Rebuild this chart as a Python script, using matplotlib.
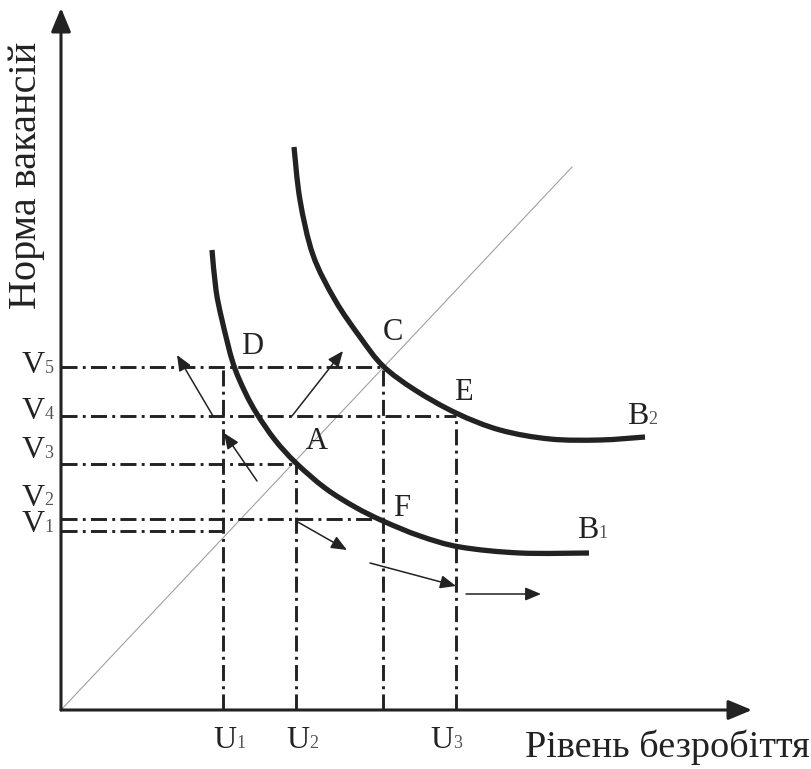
import matplotlib
matplotlib.use("Agg")
import matplotlib.pyplot as plt
from matplotlib.patches import ArrowStyle, PathPatch
from matplotlib.path import Path

plt.rcParams['font.family'] = ['Liberation Serif', 'DejaVu Serif']

# ---- data (chart units, origin at axes intersection) ----
# Beveridge curve B1
b1_u = [1.51, 1.55, 1.61, 1.72, 1.84, 1.96, 2.14, 2.35, 2.64, 2.94, 3.22, 3.59, 3.99, 4.59, 5.28]
b1_v = [4.60, 4.20, 3.90, 3.47, 3.18, 2.96, 2.70, 2.47, 2.22, 2.03, 1.89, 1.74, 1.63, 1.57, 1.57]
# Beveridge curve B2
b2_u = [2.33, 2.39, 2.52, 2.74, 2.99, 3.22, 3.54, 3.95, 4.39, 4.89, 5.39, 5.84]
b2_v = [5.63, 5.10, 4.55, 4.10, 3.73, 3.44, 3.20, 2.97, 2.80, 2.71, 2.70, 2.73]
# 45-degree line
diag_u = [0.0, 5.11]
diag_v = [0.0, 5.43]

v_names = ['V1', 'V2', 'V3', 'V4', 'V5']
v_levels = [1.79, 1.91, 2.46, 2.94, 3.43]
v_ends = [1.62, 3.22, 2.35, 3.95, 3.22]          # x where each horizontal guide stops

u_names = ['U1', 'U2', '', 'U3']
u_levels = [1.62, 2.35, 3.22, 3.95]
u_tops = [3.43, 2.46, 3.43, 2.94]                 # y where each vertical guide stops

points = ['D', 'C', 'E', 'A', 'F']
point_pos = [(1.91, 3.63), (3.32, 3.77), (4.02, 3.17), (2.56, 2.68), (3.41, 2.02)]

# movement arrows: (tail, head)
arrows = [((1.52, 2.94), (1.16, 3.55)),
          ((2.31, 2.94), (2.82, 3.59)),
          ((1.96, 2.29), (1.63, 2.77)),
          ((2.35, 1.89), (2.86, 1.60)),
          ((3.09, 1.47), (3.95, 1.24)),
          ((4.05, 1.16), (4.80, 1.16))]

x_label = 'Рівень безробіття'
y_label = 'Норма вакансій'

# ---- figure ----
fig = plt.figure(figsize=(8.11, 7.69), dpi=100)
ax = fig.add_axes([0, 0, 1, 1])
ax.set_xlim(-0.61, 7.50)
ax.set_ylim(-0.59, 7.10)
ax.axis('off')

dark = '#222222'
dashdot = (0, (5.5, 1.8, 1.0, 1.8))


def smooth_path(xs, ys):
    """Cubic Bezier path through the given points (Catmull-Rom tangents)."""
    pts = list(zip(xs, ys))
    verts = [pts[0]]
    codes = [Path.MOVETO]
    n = len(pts)
    for i in range(n - 1):
        p0 = pts[i - 1] if i > 0 else pts[i]
        p1 = pts[i]
        p2 = pts[i + 1]
        p3 = pts[i + 2] if i + 2 < n else pts[i + 1]
        c1 = (p1[0] + (p2[0] - p0[0]) / 6.0, p1[1] + (p2[1] - p0[1]) / 6.0)
        c2 = (p2[0] - (p3[0] - p1[0]) / 6.0, p2[1] - (p3[1] - p1[1]) / 6.0)
        verts += [c1, c2, p2]
        codes += [Path.CURVE4] * 3
    return Path(verts, codes)


# guides
for lvl, end in zip(v_levels, v_ends):
    ax.plot([0, end], [lvl, lvl], color=dark, lw=2.1, linestyle=dashdot, zorder=2)
for lvl, top in zip(u_levels, u_tops):
    ax.plot([lvl, lvl], [0, top], color=dark, lw=2.1, linestyle=dashdot, zorder=2)

# diagonal
ax.plot(diag_u, diag_v, color='#a0a0a0', lw=0.8, zorder=1)

# curves
for xs, ys in ((b1_u, b1_v), (b2_u, b2_v)):
    ax.add_patch(PathPatch(smooth_path(xs, ys), facecolor='none', edgecolor=dark,
                           lw=3.8, capstyle='butt', zorder=4))

# axes with arrows
axis_style = ArrowStyle('-|>', head_length=0.72, head_width=0.3)
ax.annotate('', xy=(0, 7.02), xytext=(0, 0),
            arrowprops=dict(arrowstyle=axis_style, color=dark, lw=2.2,
                            mutation_scale=20, shrinkA=0, shrinkB=0), zorder=5)
ax.annotate('', xy=(6.91, 0), xytext=(0, 0),
            arrowprops=dict(arrowstyle=axis_style, color=dark, lw=2.2,
                            mutation_scale=20, shrinkA=0, shrinkB=0), zorder=5)

# movement arrows
thin_style = ArrowStyle('-|>', head_length=0.95, head_width=0.4)
for tail, head in arrows:
    ax.annotate('', xy=head, xytext=tail,
                arrowprops=dict(arrowstyle=thin_style, color=dark, lw=1.1,
                                mutation_scale=10, shrinkA=0, shrinkB=0), zorder=6)


def sublabel(x, y, main, sub, size=23, subsize=13):
    t = ax.text(x, y, main, fontsize=size, color=dark, ha='center', va='center', zorder=7)
    if sub:
        ax.annotate(sub, xy=(1.0, 0.12), xycoords=t, fontsize=subsize, color='#555555',
                    ha='left', va='bottom', zorder=7)
    return t


# V labels
v_label_y = [1.85, 2.12, 2.59, 2.98, 3.44]
for name, ly in zip(v_names, v_label_y):
    sublabel(-0.28, ly, name[0], name[1:])

# U labels
u_label_x = [1.64, 2.37, 0, 3.81]
for name, lx in zip(u_names, u_label_x):
    if name:
        sublabel(lx, -0.31, name[0], name[1:])

# point labels
for name, (px, py) in zip(points, point_pos):
    ax.text(px, py, name, fontsize=22, color=dark, ha='center', va='center', zorder=7)

# curve labels
sublabel(5.77, 2.93, 'B', '2')
sublabel(5.27, 1.79, 'B', '1')

# axis titles
ax.text(7.49, -0.47, x_label, fontsize=27.5, color=dark, ha='right', va='baseline')
ax.text(-0.34, 5.35, y_label, fontsize=29, color=dark, ha='center', va='center', rotation=90)

fig.savefig('out.png', dpi=100)
